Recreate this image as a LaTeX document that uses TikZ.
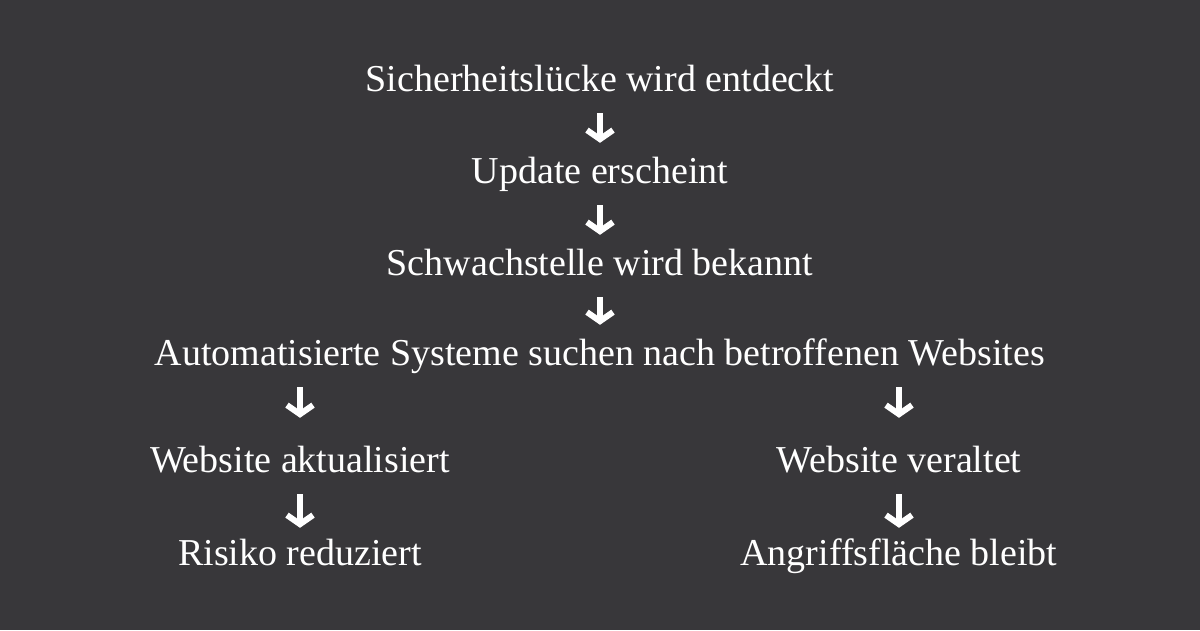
\documentclass[tikz,border=0pt]{standalone}
\usepackage{fontspec}
\setmainfont{Liberation Serif}
\usetikzlibrary{arrows.meta, positioning}

\definecolor{board}{RGB}{56,55,58}

\begin{document}
\begin{tikzpicture}[
    x=1pt, y=-1pt,
    step text/.style={
        text=white,
        font=\fontsize{38}{42}\selectfont,
        inner sep=0pt,
        text height=30pt,
        text depth=8pt,
        anchor=base,
    },
    flow/.style={
        draw=white,
        line width=6pt,
        -{Straight Barb[length=9pt, width=26pt, line join=miter]},
        shorten <=14pt,
        shorten >=10pt,
    },
]
    % Background
    \fill[board] (0,0) rectangle (1200,630);
    \useasboundingbox (0,0) rectangle (1200,630);

    % Steps
    \node[step text] (found) at (600,91) {Sicherheitslücke wird entdeckt};
    \node[step text] (update) at (600,183) {Update erscheint};
    \node[step text] (known) at (600,275) {Schwachstelle wird bekannt};
    \node[step text] (scan) at (600,365) {Automatisierte Systeme suchen nach betroffenen Websites};

    % Branches
    \node[step text] (current) at (300,472) {Website aktualisiert};
    \node[step text] (reduced) at (300,565) {Risiko reduziert};
    \node[step text] (outdated) at (899,472) {Website veraltet};
    \node[step text] (open) at (899,565) {Angriffsfläche bleibt};

    % Arrows
    \draw[flow] (found) -- (update);
    \draw[flow] (update) -- (known);
    \draw[flow] (known) -- (scan);
    \draw[flow, shorten >=24pt] (scan.south -| current) -- (current);
    \draw[flow, shorten >=24pt] (scan.south -| outdated) -- (outdated);
    \draw[flow, shorten >=7pt] (current) -- (reduced);
    \draw[flow, shorten >=7pt] (outdated) -- (open);
\end{tikzpicture}
\end{document}
